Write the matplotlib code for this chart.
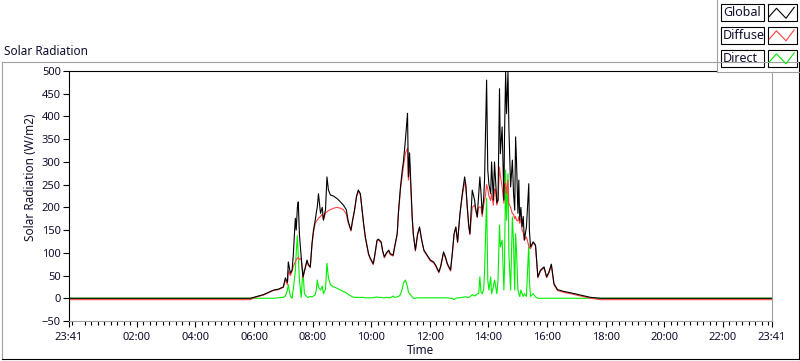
import numpy as np

import matplotlib
matplotlib.use("agg")

import matplotlib.pyplot as plt
from matplotlib.patches import Rectangle

plt.rcParams['font.family'] = ['Noto Sans', 'DejaVu Sans']

# time of day in hours (the chart runs from 23:41 of the previous day to 23:41)
times = [-0.317, 5.87, 6.04, 6.32, 6.49, 6.66, 6.83, 7.00, 7.07, 7.14,
         7.17, 7.24, 7.30, 7.34, 7.41, 7.44, 7.48, 7.51, 7.55, 7.61,
         7.67, 7.72, 7.81, 7.85, 7.92, 7.98, 8.03, 8.09, 8.13, 8.16,
         8.20, 8.27, 8.33, 8.37, 8.44, 8.49, 8.54, 8.61, 8.71, 8.84,
         8.95, 9.05, 9.15, 9.22, 9.31, 9.36, 9.43, 9.50, 9.56, 9.63,
         9.69, 9.74, 9.80, 9.91, 9.97, 10.07, 10.11, 10.20, 10.25, 10.34,
         10.39, 10.45, 10.52, 10.60, 10.65, 10.75, 10.79, 10.89, 10.93, 11.00,
         11.06, 11.10, 11.17, 11.24, 11.27, 11.31, 11.40, 11.44, 11.51, 11.58,
         11.65, 11.72, 11.80, 11.91, 12.02, 12.13, 12.20, 12.31, 12.37, 12.47,
         12.54, 12.60, 12.71, 12.77, 12.83, 12.89, 12.95, 13.03, 13.11, 13.19,
         13.23, 13.28, 13.33, 13.37, 13.45, 13.53, 13.56, 13.62, 13.67, 13.71,
         13.75, 13.79, 13.84, 13.87, 13.90, 13.94, 13.98, 14.02, 14.08, 14.11,
         14.17, 14.21, 14.24, 14.29, 14.33, 14.38, 14.41, 14.47, 14.53, 14.55,
         14.59, 14.62, 14.67, 14.70, 14.76, 14.82, 14.86, 14.90, 14.93, 14.96,
         15.01, 15.04, 15.07, 15.11, 15.15, 15.19, 15.23, 15.30, 15.38, 15.40,
         15.44, 15.53, 15.61, 15.69, 15.78, 15.90, 15.99, 16.07, 16.15, 16.24,
         16.36, 16.58, 16.81, 17.15, 17.49, 17.84, 23.683]

global_rad = [0, 0, 3, 8, 13, 18, 20, 25, 45, 35,
              80, 55, 62, 95, 176, 150, 200, 212, 140, 91,
              47, 60, 84, 75, 69, 121, 150, 172, 190, 201,
              230, 187, 200, 172, 195, 267, 238, 227, 225, 219,
              212, 205, 195, 168, 150, 170, 194, 225, 238, 230,
              194, 165, 135, 98, 88, 76, 90, 128, 130, 124,
              105, 91, 100, 106, 98, 95, 110, 143, 190, 245,
              282, 300, 350, 407, 267, 320, 179, 140, 106, 140,
              157, 130, 106, 95, 84, 80, 73, 58, 70, 102,
              90, 76, 62, 100, 142, 157, 124, 186, 230, 267,
              250, 201, 160, 142, 238, 216, 200, 179, 230, 267,
              230, 186, 220, 260, 350, 480, 282, 250, 230, 300,
              216, 300, 267, 210, 216, 461, 318, 377, 216, 350,
              498, 406, 498, 377, 245, 304, 230, 194, 355, 304,
              187, 260, 172, 200, 157, 180, 128, 157, 252, 150,
              113, 124, 117, 47, 62, 69, 47, 58, 75, 32,
              19, 15, 12, 7, 2, 0, 0]

diffuse_rad = [-3, -3, 2, 7, 12, 17, 19, 24, 40, 30,
               60, 50, 60, 70, 80, 85, 88, 90, 85, 88,
               45, 58, 82, 73, 67, 118, 145, 165, 170, 172,
               176, 180, 185, 172, 188, 190, 193, 195, 198, 200,
               198, 195, 185, 165, 148, 168, 192, 223, 236, 228,
               192, 163, 133, 96, 86, 74, 88, 126, 128, 122,
               103, 89, 98, 104, 96, 93, 108, 141, 185, 240,
               270, 290, 320, 330, 260, 300, 175, 138, 104, 138,
               155, 128, 104, 93, 82, 78, 71, 56, 68, 100,
               88, 74, 60, 98, 140, 155, 122, 184, 226, 255,
               245, 199, 158, 140, 200, 205, 195, 178, 200, 201,
               200, 180, 205, 215, 225, 250, 240, 225, 215, 230,
               205, 240, 240, 205, 215, 289, 270, 245, 209, 250,
               253, 230, 260, 209, 200, 186, 185, 175, 180, 172,
               170, 180, 165, 175, 150, 145, 128, 135, 115, 112,
               109, 122, 115, 45, 60, 67, 45, 56, 73, 30,
               17, 13, 10, 5, 0, -3, -3]

direct_rad = [0, 0, 0, 0, 0, 0, 1, 2, 5, 18,
              30, 5, 0, 20, 60, 100, 138, 98, 40, 2,
              62, 10, 3, 2, 4, 3, 5, 8, 20, 40,
              25, 18, 27, 10, 20, 77, 45, 30, 25, 22,
              18, 15, 12, 8, 5, 3, 2, 2, 2, 2,
              2, 2, 1, 1, 1, 1, 2, 3, 2, 2,
              1, 1, 2, 1, 1, 5, 2, 3, 4, 8,
              20, 33, 40, 25, 14, 10, 3, 0, 0, 1,
              1, 1, 1, 1, 1, 1, 1, 1, 1, 1,
              1, 1, 0, 0, -3, 0, 1, 1, 2, 3,
              3, 2, 2, 3, 8, 5, 6, 10, 10, 47,
              13, 10, 20, 60, 130, 220, 40, 18, 47, 10,
              25, 40, 30, 10, 40, 161, 113, 128, 18, 60,
              282, 172, 274, 98, 18, 179, 120, 18, 142, 106,
              18, 10, 4, 18, 10, 4, 10, 4, 120, 40,
              4, 10, 3, 0, 0, 0, 0, 0, 0, 0,
              0, 0, 0, 0, 0, 0, 0]

series_names = ['Global', 'Diffuse', 'Direct']
series_colors = ['#000000', '#ff4040', '#00ee00']

x_start = -19 / 60
x_end = 23 + 41 / 60
tick_hours = [x_start, 2, 4, 6, 8, 10, 12, 14, 16, 18, 20, 22, x_end]
tick_labels = ['23:41', '02:00', '04:00', '06:00', '08:00', '10:00', '12:00',
               '14:00', '16:00', '18:00', '20:00', '22:00', '23:41']

W, H = 800, 361
fig = plt.figure(figsize=(W / 100, H / 100), dpi=100)
fig.patch.set_facecolor('white')

ax = fig.add_axes([69 / W, 1 - 321 / H, 703 / W, 250 / H])
ax.plot(times, direct_rad, color=series_colors[2], lw=0.8)
ax.plot(times, diffuse_rad, color=series_colors[1], lw=0.8)
ax.plot(times, global_rad, color=series_colors[0], lw=0.8)

ax.set_xlim(x_start, x_end)
ax.set_ylim(-50, 500)
ax.set_yticks(np.arange(-50, 501, 50))
ax.set_xticks(tick_hours)
ax.set_xticklabels(tick_labels)
# minor ticks every 2/9 hour, skipping the even hours
minor = [m * 2 / 9 for m in range(-1, 107)]
minor = [m for m in minor if x_start < m < x_end and
         (abs(m - round(m)) > 0.01 or round(m) % 2 == 1)]
ax.set_xticks(minor, minor=True)

ax.tick_params(axis='both', which='both', direction='out', color='black',
               width=0.8, labelsize=8, labelcolor='#101030')
ax.tick_params(axis='x', which='major', length=4, pad=4)
ax.tick_params(axis='x', which='minor', length=3)
ax.tick_params(axis='y', which='major', length=4, pad=2)

ax.spines['left'].set_color('black')
ax.spines['top'].set_color('black')
ax.spines['right'].set_color('#a0a0a0')
ax.spines['bottom'].set_color('#a0a0a0')
for s in ax.spines.values():
    s.set_linewidth(0.8)

ax.set_xlabel('Time', fontsize=8.5, color='#101030')
ax.xaxis.set_label_coords(0.5, (321 - 350) / 250)
ax.xaxis.label.set_verticalalignment('center')
ax.set_ylabel('Solar Radiation (W/m2)', fontsize=8.5, color='#101030')
ax.yaxis.set_label_coords((31 - 69) / 703, (321 - 177) / 250)
ax.yaxis.label.set_verticalalignment('center')

# overlay in pixel coordinates for the frame, caption and legend
ov = fig.add_axes([0, 0, 1, 1], zorder=5)
ov.set_xlim(0, W)
ov.set_ylim(H, 0)
ov.axis('off')
ov.patch.set_alpha(0)

ov.plot([1.5, 1.5], [61.5, 359], color='#a0a0a0', lw=0.8)
ov.plot([1.5, 799], [61.5, 61.5], color='#a0a0a0', lw=0.8)
ov.plot([1.5, 799.3], [359.3, 359.3], color='black', lw=0.8)
ov.plot([799.3, 799.3], [61.5, 359.3], color='black', lw=0.8)

ov.text(4, 55, 'Solar Radiation', fontsize=8.5, color='#101030',
        ha='left', va='baseline')

ov.add_patch(Rectangle((716.5, 0), 84, 71.5, fc='white', ec='none'))
ov.plot([716.5, 716.5], [0, 71.5], color='#a0a0a0', lw=0.8)
ov.plot([716.5, 800], [71.5, 71.5], color='#a0a0a0', lw=0.8)

row_tops = [4, 26.5, 49.5]
zig_x = np.array([1.7, 9, 18.5, 26.7])
zig_y = np.array([12.5, 4.3, 14.3, 3.3])
for name, color, top in zip(series_names, series_colors, row_tops):
    ov.add_patch(Rectangle((720.5, top), 43, 17, fc='white', ec='black', lw=0.8))
    ov.text(723, top + 9, name, fontsize=9, color='#101030',
            ha='left', va='center')
    ov.add_patch(Rectangle((767.5, top), 29, 17, fc='white', ec='black', lw=0.8))
    ov.plot(767.5 + zig_x, top + zig_y, color=color, lw=0.8)

fig.savefig('out.png', dpi=100)
plt.close(fig)
